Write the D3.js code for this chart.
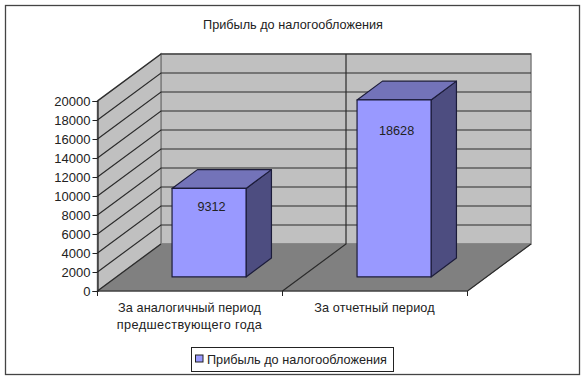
<!DOCTYPE html>
<html>
<head>
<meta charset="utf-8">
<script src="https://cdn.jsdelivr.net/npm/d3@7"></script>
<style>
  html, body { margin: 0; padding: 0; background: #fff; }
  svg { display: block; }
  text { font-family: "Liberation Sans", sans-serif; font-size: 12.7px; fill: #222; }
</style>
</head>
<body>
<div id="chart"></div>
<script>
const TITLE = "Прибыль до налогообложения"
const SERIES_NAME = "Прибыль до налогообложения"
const categories = ["За аналогичный период|предшествующего года", "За отчетный период"]
const values = [9312, 18628]
const yTicks = [0, 2000, 4000, 6000, 8000, 10000, 12000, 14000, 16000, 18000, 20000]

const WIDTH = 585
const HEIGHT = 380
const FRONT = { LEFT: 97.5, RIGHT: 467.5, TOP: 101, BOTTOM: 291 }
const DEPTH = { X: 63.5, Y: -47 } // how far the back wall is shifted from the front plane
const BAR_DEPTH = [0.3, 0.7]

const svg = d3.select("#chart")
              .append("svg")
              .attr("width", WIDTH)
              .attr("height", HEIGHT)

const x = d3.scaleBand()
            .domain(categories)
            .range([FRONT.LEFT, FRONT.RIGHT])
            .paddingInner(0.6)
            .paddingOuter(0.3)

const y = d3.scaleLinear()
            .domain([0, 20000])
            .range([FRONT.BOTTOM, FRONT.TOP])

// value labels do not follow the bar top exactly, they climb a bit slower
const labelY = d3.scaleLinear()
                 .domain([0, 20000])
                 .range([287, 123.8])

// step between category separators
const xEdge = d3.scaleLinear()
                .domain([0, categories.length])
                .range([FRONT.LEFT, FRONT.RIGHT])

// oblique projection: px, py on the front plane, d = 0 front .. 1 back
const project = (px, py, d) => [px + DEPTH.X * d, py + DEPTH.Y * d]
const pathOf = pts => d3.line()(pts) + "Z"

// outer frame
svg.append("rect")
   .attr("x", 5.5).attr("y", 5.5)
   .attr("width", 574).attr("height", 369)
   .attr("fill", "#fff")
   .attr("stroke", "#444")
   .attr("stroke-width", 1.3)

svg.append("text")
   .attr("x", 293).attr("y", 29)
   .attr("text-anchor", "middle")
   .text(TITLE)

// back wall, side wall, floor
const xL = FRONT.LEFT, xR = FRONT.RIGHT, y0 = y(0), yMax = y(20000)
svg.append("path")
   .attr("d", pathOf([project(xL, y0, 1), project(xR, y0, 1), project(xR, yMax, 1), project(xL, yMax, 1)]))
   .attr("fill", "#c0c0c0").attr("stroke", "#808080").attr("stroke-width", 1.5)
svg.append("path")
   .attr("d", pathOf([project(xL, y0, 0), project(xL, y0, 1), project(xL, yMax, 1), project(xL, yMax, 0)]))
   .attr("fill", "#c0c0c0").attr("stroke", "#808080").attr("stroke-width", 1.5)
svg.append("path")
   .attr("d", pathOf([project(xL, y0, 0), project(xR, y0, 0), project(xR, y0, 1), project(xL, y0, 1)]))
   .attr("fill", "#808080").attr("stroke", "#808080")

// gridlines wrap from the axis over the side wall and along the back wall
const grid = svg.append("g").attr("fill", "none").attr("stroke", "#2b2b2b").attr("stroke-width", 1.2)
grid.selectAll("path.h")
    .data(yTicks.slice(1))
    .enter()
    .append("path")
    .attr("class", "h")
    .attr("d", d => d3.line()([project(xL, y(d), 0), project(xL, y(d), 1), project(xR, y(d), 1)]))

// category separators on floor and back wall
grid.selectAll("path.v")
    .data(d3.range(0, categories.length + 1))
    .enter()
    .append("path")
    .attr("class", "v")
    .attr("d", d => {
      const pts = [project(xEdge(d), y0, 0), project(xEdge(d), y0, 1)]
      if (d === 1) pts.push(project(xEdge(d), yMax, 1))
      return d3.line()(pts)
    })

// axes
const yAxis = d3.axisLeft(y).tickValues(yTicks).tickFormat(d3.format("d")).tickSize(5).tickPadding(2)
const yG = svg.append("g").attr("transform", `translate(${FRONT.LEFT},0)`).call(yAxis)
yG.select(".domain").attr("stroke", "#222").attr("stroke-width", 1.2)
yG.selectAll(".tick line").attr("stroke", "#222")
yG.selectAll("text").style("font-size", "13px").attr("fill", "#222")

svg.append("line")
   .attr("x1", xL).attr("x2", xR).attr("y1", y0).attr("y2", y0)
   .attr("stroke", "#222").attr("stroke-width", 1.2)
svg.selectAll("line.xtick")
   .data(d3.range(0, categories.length + 1))
   .enter()
   .append("line")
   .attr("class", "xtick")
   .attr("x1", d => xEdge(d)).attr("x2", d => xEdge(d))
   .attr("y1", y0).attr("y2", y0 + 5)
   .attr("stroke", "#222")

// bars
const barData = categories.map((c, i) => ({ c, v: values[i] }))
const bars = svg.selectAll("g.bar")
                .data(barData)
                .enter()
                .append("g")
                .attr("class", "bar")
                .attr("stroke", "#1c1c3a")
                .attr("stroke-width", 1.2)
                .attr("stroke-linejoin", "round")

const [dF, dB] = BAR_DEPTH
bars.append("path")
    .attr("fill", "#4d4d80")
    .attr("d", d => {
      const r = x(d.c) + x.bandwidth()
      return pathOf([project(r, y(0), dF), project(r, y(0), dB), project(r, y(d.v), dB), project(r, y(d.v), dF)])
    })
bars.append("path")
    .attr("fill", "#7373b9")
    .attr("d", d => {
      const l = x(d.c), r = l + x.bandwidth()
      return pathOf([project(l, y(d.v), dF), project(r, y(d.v), dF), project(r, y(d.v), dB), project(l, y(d.v), dB)])
    })
bars.append("path")
    .attr("fill", "#9999ff")
    .attr("d", d => {
      const l = x(d.c), r = l + x.bandwidth()
      return pathOf([project(l, y(0), dF), project(r, y(0), dF), project(r, y(d.v), dF), project(l, y(d.v), dF)])
    })

// value labels sit inside the bar, near the top
svg.selectAll("text.value")
   .data(barData)
   .enter()
   .append("text")
   .attr("class", "value")
   .attr("text-anchor", "middle")
   .attr("x", d => project(x(d.c) + x.bandwidth() / 2, 0, dF)[0] + 2.5)
   .attr("y", d => labelY(d.v))
   .text(d => d.v)

// category labels
categories.forEach(c => {
  const t = svg.append("text")
               .attr("text-anchor", "middle")
               .attr("x", x(c) + x.bandwidth() / 2)
               .attr("y", 312)
  c.split("|").forEach((line, j) => {
    t.append("tspan")
     .attr("x", x(c) + x.bandwidth() / 2 - 0.5)
     .attr("dy", j === 0 ? 0 : 17)
     .style("letter-spacing", j === 0 ? "0.08px" : "0.38px") // second line runs wider in the original
     .text(line)
  })
})

// legend
const legend = svg.append("g").attr("transform", "translate(191,347)")
legend.append("rect")
      .attr("x", 0.5).attr("y", 0.5)
      .attr("width", 202).attr("height", 24)
      .attr("fill", "#fff").attr("stroke", "#222")
legend.append("rect")
      .attr("x", 4.5).attr("y", 8)
      .attr("width", 7.5).attr("height", 7)
      .attr("fill", "#9999ff").attr("stroke", "#222")
legend.append("text")
      .attr("x", 16).attr("y", 17)
      .text(SERIES_NAME)
</script>
</body>
</html>
